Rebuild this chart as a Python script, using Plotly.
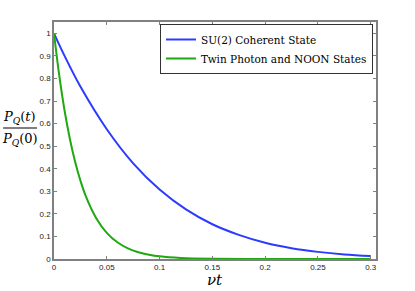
import plotly.graph_objects as go

# Values
nu_t_blue = [0, 0.01, 0.025, 0.05, 0.075, 0.1, 0.125, 0.15, 0.175, 0.2, 0.225, 0.25, 0.275, 0.3]
su2_coherent = [1.0, 0.900, 0.764, 0.575, 0.424, 0.308, 0.220, 0.154, 0.107, 0.072, 0.048, 0.0316, 0.0203, 0.0129]

nu_t_green = [0, 0.005, 0.01, 0.015, 0.02, 0.025, 0.03, 0.04, 0.05, 0.06, 0.07, 0.08, 0.09, 0.1,
              0.12, 0.15, 0.2, 0.25, 0.3]
twin_noon = [1.0, 0.812, 0.658, 0.533, 0.431, 0.348, 0.280, 0.181, 0.116, 0.074, 0.047, 0.030, 0.019, 0.0117,
             0.0045, 0.001, 0.0001, 0.0, 0.0]

x_ticks = [0, 0.05, 0.1, 0.15, 0.2, 0.25, 0.3]
x_tick_labels = ["0", "0.05", "0.1", "0.15", "0.2", "0.25", "0.3"]
y_ticks = [0, 0.1, 0.2, 0.3, 0.4, 0.5, 0.6, 0.7, 0.8, 0.9, 1]
y_tick_labels = ["0", "0.1", "0.2", "0.3", "0.4", "0.5", "0.6", "0.7", "0.8", "0.9", "1"]

fig = go.Figure()
fig.add_trace(go.Scatter(x=nu_t_blue, y=su2_coherent, mode="lines", name="SU(2) Coherent State",
                         line=dict(color="#2b3bff", width=2, shape="spline")))
fig.add_trace(go.Scatter(x=nu_t_green, y=twin_noon, mode="lines", name="Twin Photon and NOON States",
                         line=dict(color="#1fa80f", width=2, shape="spline")))

axis_common = dict(showline=True, linecolor="#808080", linewidth=1.5, mirror="ticks",
                   ticks="inside", ticklen=3, tickcolor="#808080", showgrid=False, zeroline=False,
                   tickfont=dict(family="Liberation Sans", size=8, color="#222222"))

fig.update_layout(
    width=415, height=291,
    margin=dict(l=54, r=39, t=22, b=32),
    paper_bgcolor="white", plot_bgcolor="white",
    xaxis=dict(range=[0, 0.305], tickvals=x_ticks, ticktext=x_tick_labels, **axis_common),
    yaxis=dict(range=[0, 1.05], tickvals=y_ticks, ticktext=y_tick_labels, **axis_common),
    legend=dict(x=0.9907, y=0.9916, xanchor="right", yanchor="top",
                bgcolor="white", bordercolor="#333333", borderwidth=1,
                font=dict(family="DejaVu Serif", size=10.5, color="black"),
                itemwidth=30, tracegroupgap=0),
    showlegend=True,
)

fig.add_annotation(text="<i>νt</i>", xref="paper", yref="paper", x=0.5, y=0, yshift=-21,
                   xanchor="center", yanchor="middle", showarrow=False,
                   font=dict(family="DejaVu Serif", size=15, color="black"))
fig.add_annotation(text="<i>P</i><sub><i>Q</i></sub>(<i>t</i>)", xref="paper", yref="paper",
                   x=-0.1056, y=0.5527, yshift=0, xanchor="center", yanchor="bottom", showarrow=False,
                   font=dict(family="DejaVu Serif", size=13, color="black"))
fig.add_annotation(text="<i>P</i><sub><i>Q</i></sub>(0)", xref="paper", yref="paper",
                   x=-0.1056, y=0.5527, yshift=-1, xanchor="center", yanchor="top", showarrow=False,
                   font=dict(family="DejaVu Serif", size=13, color="black"))
fig.add_shape(type="line", xref="paper", yref="paper", x0=-0.158, x1=-0.0528, y0=0.5527, y1=0.5527,
              line=dict(color="black", width=1))

fig.write_html("out.html", config={"displayModeBar": False},
               post_script="document.body.style.margin='0';")
